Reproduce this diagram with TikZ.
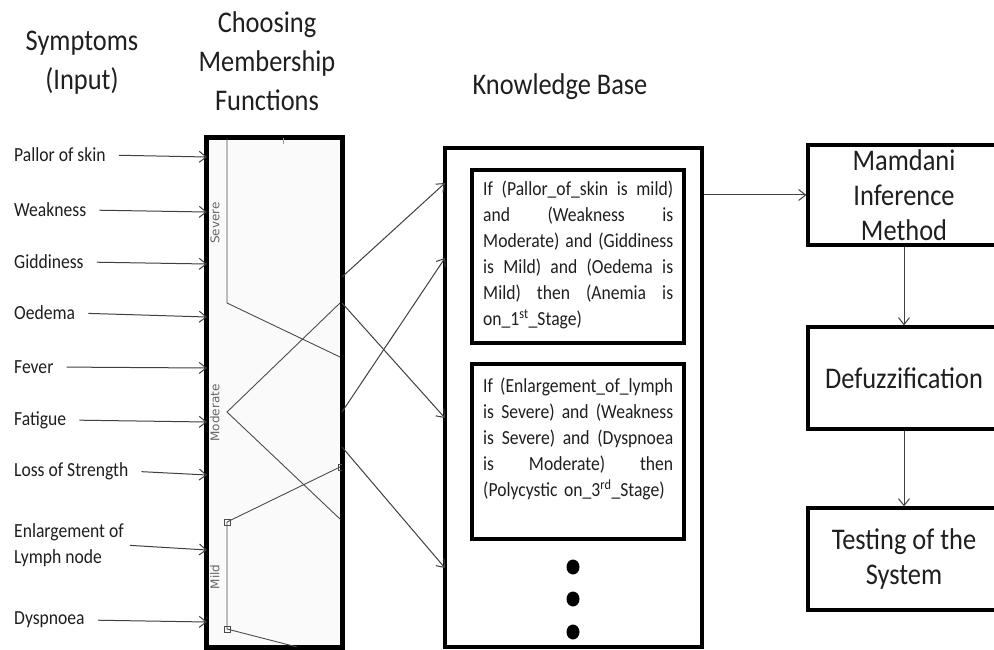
\documentclass[tikz,border=0pt]{standalone}
\usepackage{fontspec}
\setmainfont{Carlito}[FakeStretch=0.88]
\newfontfamily\lblfont{DejaVu Sans}
\usetikzlibrary{arrows.meta}
\newcommand\jline[1]{\leavevmode\hbox to 190pt{\spaceskip=0.22em plus 1fil\relax #1}}
\begin{document}
\begin{tikzpicture}[x=1pt,y=-1pt,
  arr/.style={draw=black!75, line width=1pt, -{Straight Barb[length=7pt,width=11pt]}},
  thickbox/.style={draw=black, line width=3.2pt, inner sep=0pt},
  sym/.style={anchor=west, inner sep=0pt, font=\fontsize{20}{26}\selectfont, text=black!88, align=left},
  head/.style={font=\fontsize{30}{39}\selectfont, align=center, inner sep=0pt, text=black!88},
  rbox/.style={thickbox, minimum width=192, font=\fontsize{30}{35}\selectfont, align=center, text=black!88},
  ruletext/.style={anchor=north west, inner sep=0pt, text width=190pt, align=left, font=\fontsize{20}{26}\selectfont, text=black!88},
  curve/.style={draw=black!70, line width=0.9pt},
  mflabel/.style={font=\lblfont\fontsize{12}{12}\selectfont, text=black!60, inner sep=0pt, rotate=90}
]
\useasboundingbox (0,0) rectangle (994,650);
\clip (0,0) rectangle (994,650);
\fill[white] (0,0) rectangle (994,650);

% headers
\node[head] (h1) at (82,63) {Symptoms\\(Input)};
\node[head] (h2) at (267,61) {Choosing\\Membership\\Functions};
\node[head] (h3) at (560,87) {Knowledge Base};

% membership box
\node[thickbox, fill=black!2, minimum width=135, minimum height=509] (mf) at (274.5,392.5) {};
\draw[curve] (227,138) -- (227,303) -- (340,357);
\draw[curve] (340,303) -- (227,412) -- (340,519);
\draw[curve] (340,467) -- (227,522) -- (227,629) -- (297,647);
\draw[curve, line width=0.8pt] (224,519) rectangle (230,525);
\draw[curve, line width=0.8pt] (224,626) rectangle (230,632);
\draw[curve, line width=0.8pt] (338,464) rectangle (342,470);
\draw[draw=black!40, line width=0.6pt] (283,138) -- (283,144);
\node[mflabel] (lsev) at (215,223) {Severe};
\node[mflabel] (lmod) at (215,413) {Moderate};
\node[mflabel] (lmild) at (215,577) {Mild};
\draw[thickbox] (mf.north west) rectangle (mf.south east);

% symptoms
\node[sym] (s1) at (14,155) {Pallor of skin};
\node[sym] (s2) at (14,210) {Weakness};
\node[sym] (s3) at (14,262) {Giddiness};
\node[sym] (s4) at (14,313) {Oedema};
\node[sym] (s5) at (14,367) {Fever};
\node[sym] (s6) at (14,420) {Fatigue};
\node[sym] (s7) at (14,471) {Loss of Strength};
\node[sym] (s8) at (14,545) {Enlargement of\\Lymph node};
\node[sym] (s9) at (14,620) {Dyspnoea};
\coordinate (e1) at (207,157);
\coordinate (e2) at (207,212);
\coordinate (e3) at (207,264);
\coordinate (e4) at (207,317);
\coordinate (e5) at (207,368);
\coordinate (e6) at (207,422);
\coordinate (e7) at (207,475);
\coordinate (e8) at (207,550);
\coordinate (e9) at (207,622);
\foreach \i in {1,...,7,9} {\draw[arr, shorten <=13pt] (s\i.east) -- (e\i);}
\draw[arr, shorten <=6pt] (s8.east) -- (e8);

% knowledge base
\node[thickbox, minimum width=257, minimum height=499] (kb) at (573.5,397.5) {};
\node[thickbox, minimum width=212, minimum height=173] (r1) at (578,256.5) {};
\node[thickbox, minimum width=212, minimum height=175] (r2) at (578,451.5) {};
\node[ruletext] (t1) at (483,181) {\jline{If (Pallor\_of\_skin is mild)}\\
\jline{and (Weakness is}\\
\jline{Moderate) and (Giddiness}\\
\jline{is Mild) and (Oedema is}\\
\jline{Mild) then (Anemia is}\\
on\_1\textsuperscript{st}\_Stage)};
\node[ruletext] (t2) at (483,378) {\jline{If (Enlargement\_of\_lymph}\\
\jline{is Severe) and (Weakness}\\
\jline{is Severe) and (Dyspnoea}\\
\jline{is Moderate) then}\\
(Polycystic on\_3\textsuperscript{rd}\_Stage)};
\fill[black] (573,567) ellipse [x radius=6.5pt, y radius=7.5pt];
\fill[black] (573,599) ellipse [x radius=6.5pt, y radius=7.5pt];
\fill[black] (573,632) ellipse [x radius=6.5pt, y radius=7.5pt];

% crossing arrows
\coordinate (c1s) at (342,277); \coordinate (c1e) at (445,183);
\coordinate (c2s) at (342,303); \coordinate (c2e) at (445,418);
\coordinate (c3s) at (342,412); \coordinate (c3e) at (445,258);
\coordinate (c4s) at (342,447); \coordinate (c4e) at (445,568);
\foreach \i in {1,...,4} {\draw[arr] (c\i s) -- (c\i e);}

% right column
\node[rbox, minimum height=100] (mam) at (904,195) {Mamdani\\Inference\\Method};
\node[rbox, minimum height=102] (def) at (904,378) {Defuzzification};
\node[rbox, minimum height=102] (tst) at (904,559) {Testing of the\\System};
\draw[arr] (kb.east |- mam.west) -- (mam.west);
\draw[arr] (mam.south) -- (def.north);
\draw[arr] (def.south) -- (tst.north);
\end{tikzpicture}
\end{document}
